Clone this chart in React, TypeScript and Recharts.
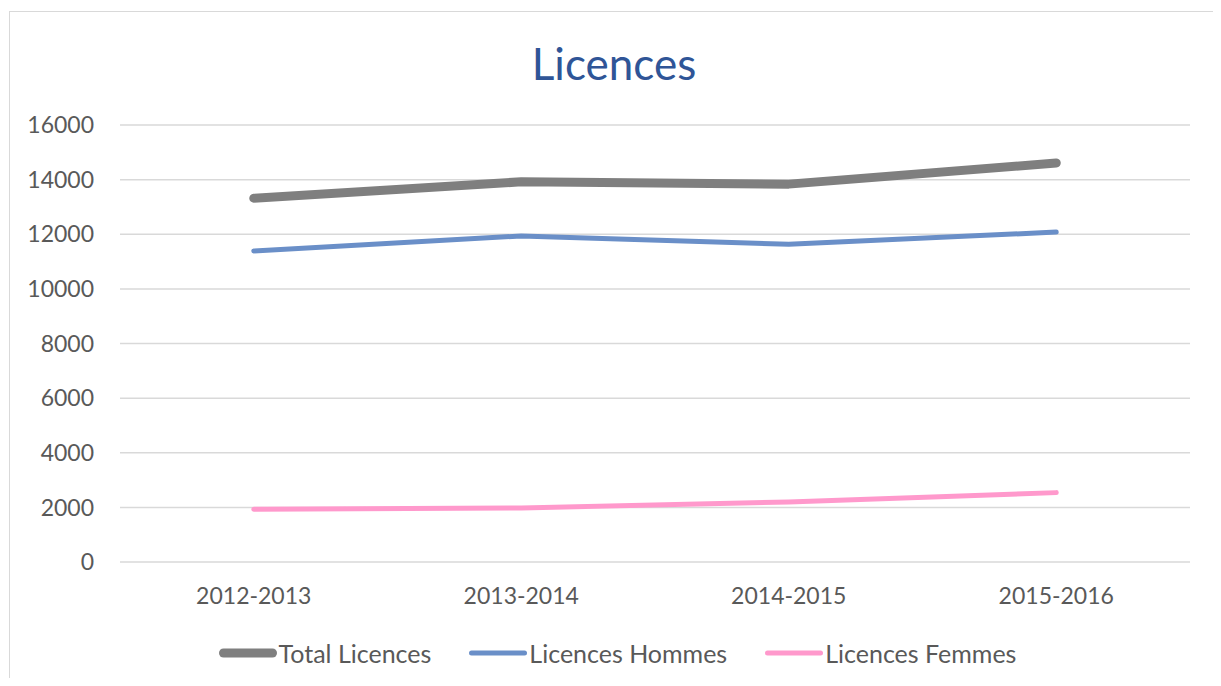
import * as React from "react";
import { CartesianGrid, Legend, Line, LineChart, XAxis, YAxis } from "recharts";

const seasons = ["2012-2013", "2013-2014", "2014-2015", "2015-2016"];
const totalLicences = [13320, 13920, 13835, 14610];
const licencesHommes = [11390, 11940, 11635, 12080];
const licencesFemmes = [1930, 1980, 2200, 2540];
const yTicks = [0, 2000, 4000, 6000, 8000, 10000, 12000, 14000, 16000];

const FONT = "Lato, 'Open Sans', sans-serif";
const TEXT = "#595959";

const data = seasons.map((season, i) => ({
  season,
  total: totalLicences[i],
  hommes: licencesHommes[i],
  femmes: licencesFemmes[i],
}));

const series = [
  { key: "total", name: "Total Licences", color: "#7f7f7f", width: 9 },
  { key: "hommes", name: "Licences Hommes", color: "#6a8fc8", width: 5 },
  { key: "femmes", name: "Licences Femmes", color: "#ff99cc", width: 5 },
];

// legend with thick rounded line icons like the original
function LegendContent() {
  return (
    <div style={{ display: "flex", justifyContent: "center", alignItems: "center", height: 30 }}>
      {series.map((s, i) => (
        <div
          key={s.key}
          style={{ display: "flex", alignItems: "center", marginLeft: i === 0 ? 0 : 38 }}
        >
          <svg width={58} height={12} style={{ marginRight: 2 }}>
            <line
              x1={s.width / 2}
              y1={6}
              x2={58 - s.width / 2}
              y2={6}
              stroke={s.color}
              strokeWidth={s.width}
              strokeLinecap="round"
            />
          </svg>
          <span style={{ fontFamily: FONT, fontSize: 25, color: TEXT, lineHeight: "30px" }}>
            {s.name}
          </span>
        </div>
      ))}
    </div>
  );
}

export default function App() {
  return (
    <div
      style={{
        position: "relative",
        width: 1221,
        height: 686,
        margin: -8,
        overflow: "hidden",
        background: "#fff",
      }}
    >
      <div
        style={{
          position: "absolute",
          left: 9,
          top: 11,
          width: 1207,
          height: 700,
          border: "1px solid #d9d9d9",
        }}
      />
      <div
        style={{
          position: "absolute",
          left: 0,
          width: 1228,
          top: 41,
          textAlign: "center",
          fontFamily: FONT,
          fontSize: 44,
          lineHeight: 1,
          color: "#2f5597",
        }}
      >
        Licences
      </div>
      <div style={{ position: "absolute", left: 0, top: 0 }}>
        <LineChart
          width={1221}
          height={686}
          data={data}
          margin={{ top: 125, right: 31, bottom: 64, left: 0 }}
        >
          <CartesianGrid vertical={false} stroke="#d9d9d9" strokeWidth={1.5} />
          <XAxis
            dataKey="season"
            axisLine={false}
            tickLine={false}
            tickSize={0}
            tickMargin={26}
            padding={{ left: 133.75, right: 133.75 }}
            tick={{ fontFamily: FONT, fontSize: 23, fill: TEXT }}
          />
          <YAxis
            width={120}
            domain={[0, 16000]}
            ticks={yTicks}
            interval={0}
            axisLine={false}
            tickLine={false}
            tickSize={0}
            tickMargin={26}
            tick={{ fontFamily: FONT, fontSize: 23, fill: TEXT }}
          />
          <Legend
            content={<LegendContent />}
            height={30}
            wrapperStyle={{ position: "absolute", left: 7, top: 638, width: 1221, height: 30 }}
          />
          {series.map((s) => (
            <Line
              key={s.key}
              type="linear"
              dataKey={s.key}
              name={s.name}
              stroke={s.color}
              strokeWidth={s.width}
              strokeLinecap="round"
              strokeLinejoin="round"
              dot={false}
              activeDot={false}
              isAnimationActive={false}
            />
          ))}
        </LineChart>
      </div>
    </div>
  );
}
